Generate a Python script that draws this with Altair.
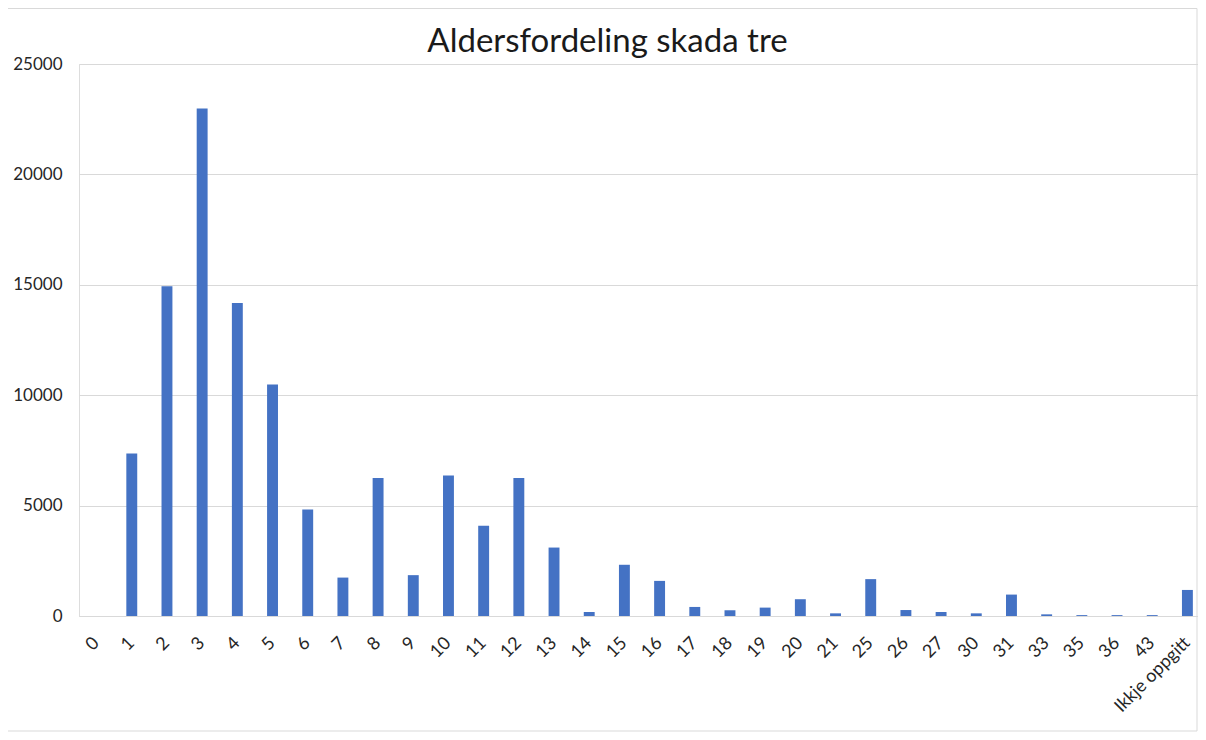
import altair as alt
import pandas as pd

categories = ["0", "1", "2", "3", "4", "5", "6", "7", "8", "9", "10", "11", "12", "13",
              "14", "15", "16", "17", "18", "19", "20", "21", "25", "26", "27", "30",
              "31", "33", "35", "36", "43", "Ikkje oppgitt"]
counts = [0, 7360, 14930, 22980, 14180, 10490, 4820, 1740, 6250, 1850, 6360, 4090, 6250, 3100,
          180, 2320, 1590, 410, 260, 380, 760, 120, 1670, 270, 180, 120,
          970, 75, 40, 40, 40, 1180]
y_ticks = [0, 5000, 10000, 15000, 20000, 25000]

df = pd.DataFrame({"alder": categories, "antal": counts})

FONT = "Lato"
W, H = 1119, 552

bars = alt.Chart(df).mark_bar(color="#4472C4").encode(
    x=alt.X("alder:N", sort=categories, title=None,
            scale=alt.Scale(paddingInner=0.69, paddingOuter=0.345, range=[0, 1126]),
            axis=alt.Axis(labelAngle=-45, labelAlign="right", labelBaseline="middle",
                          labelFont=FONT, labelFontSize=18, labelColor="#262626",
                          domainColor="#d9d9d9", domainWidth=1, ticks=False,
                          labelPadding=24, labelOverlap=False)),
    y=alt.Y("antal:Q", title=None,
            scale=alt.Scale(domain=[0, 25000], nice=False),
            axis=alt.Axis(values=y_ticks, format="d", labelFont=FONT, labelFontSize=17,
                          labelColor="#262626", domain=False, ticks=False,
                          gridColor="#d9d9d9", gridWidth=1, labelPadding=17)),
)

border = alt.Chart(pd.DataFrame({"k": [0]})).mark_rect(
    fill=None, stroke="#d9d9d9", strokeWidth=1, clip=False
).encode(
    x=alt.value(-71.5), x2=alt.value(1118), y=alt.value(-55.5), y2=alt.value(667)
)

chart = alt.layer(border, bars).properties(
    width=W, height=H,
    title=alt.TitleParams("Aldersfordeling skada tre", font=FONT, fontSize=33,
                          fontWeight="normal", color="#1a1a1a", anchor="middle",
                          offset=-51, dx=-31),
    autosize=alt.AutoSizeParams(type="none"),
    padding={"left": 71, "top": 56, "right": 0, "bottom": 116},
).configure_view(stroke=None).configure(background="white")

chart.save("out.html", embed_options={"renderer": "svg", "actions": False})
